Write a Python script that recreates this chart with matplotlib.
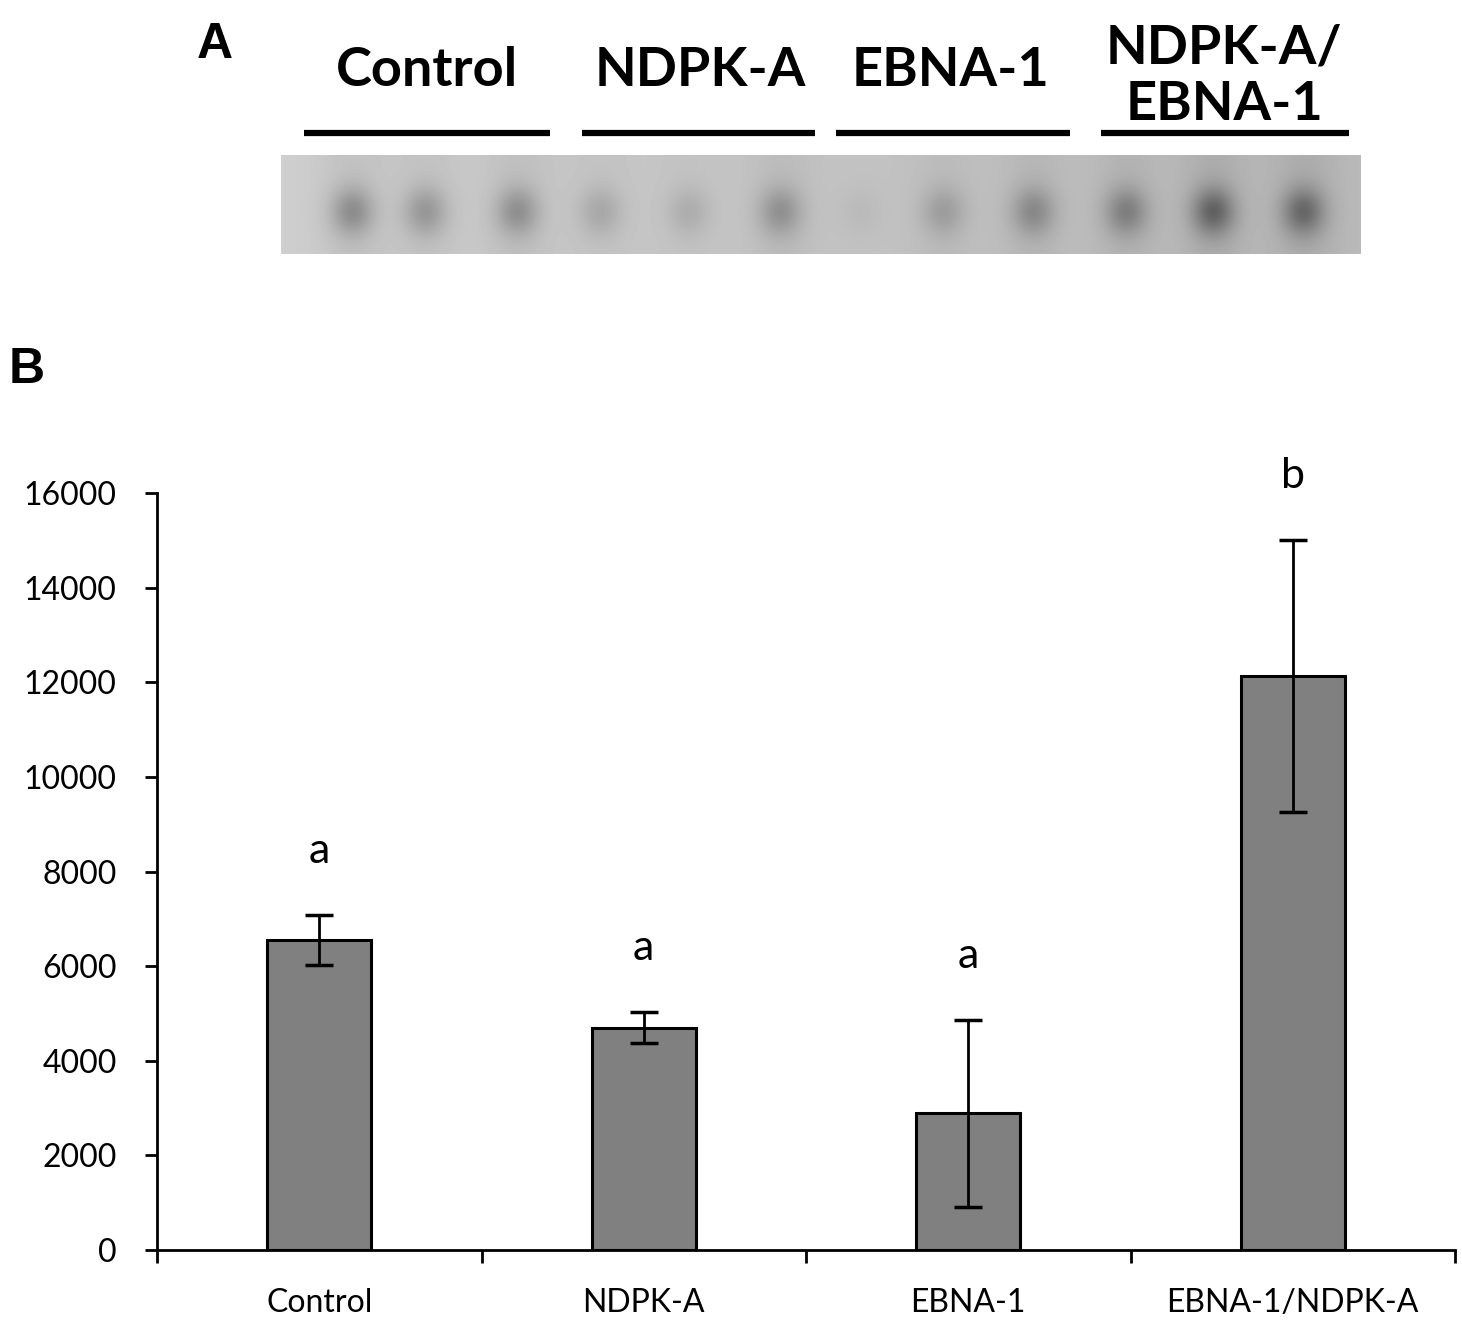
import numpy as np
import matplotlib
matplotlib.use('Agg')
import matplotlib.pyplot as plt

plt.rcParams['font.family'] = ['Lato', 'DejaVu Sans']

# panel B data
groups = ['Control', 'NDPK-A', 'EBNA-1', 'EBNA-1/NDPK-A']
means = [6550, 4700, 2890, 12130]
errors = [530, 330, 1980, 2870]
letters = ['a', 'a', 'a', 'b']

# panel A: blot lanes
blot_groups = ['Control', 'NDPK-A', 'EBNA-1', 'NDPK-A/\nEBNA-1']
lane_pos = [71, 144, 236, 319, 407, 499, 579, 662, 752, 845, 932, 1022]
lane_dark = [0.55, 0.45, 0.50, 0.28, 0.22, 0.45, 0.08, 0.32, 0.48, 0.55, 0.78, 0.72]

W, H = 1462, 1323
fig = plt.figure(figsize=(W / 100, H / 100), dpi=100)


def fx(px):
    return px / W


def fy(py):
    return 1 - py / H


# ---- panel A ----
fig.text(fx(197), fy(58), 'A', fontsize=36, fontweight='bold',
         family='Liberation Sans', va='baseline')

label_x = [427, 700, 951, 1224]
line_spans = [(304, 550), (582, 815), (836, 1070), (1101, 1349)]
for lab, cx, (x0, x1) in zip(blot_groups, label_x, line_spans):
    fig.text(fx(cx), fy(86) if '\n' not in lab else fy(120), lab,
             fontsize=39, fontweight='bold', ha='center', va='baseline',
             linespacing=1.2)
    fig.add_artist(plt.Line2D([fx(x0), fx(x1)], [fy(133), fy(133)],
                              color='black', lw=4.5, solid_capstyle='butt'))

blot_ax = fig.add_axes([fx(281), fy(254), fx(1361) - fx(281), fy(155) - fy(254)])
cols = np.arange(1080)
rows = np.arange(99)
xx, yy = np.meshgrid(cols, rows)
img = 0.81 - 0.08 * (xx / 1080.0)
for p, d in zip(lane_pos, lane_dark):
    img -= 0.38 * d * np.exp(-((xx - p) ** 2) / (2 * 15.0 ** 2)
                             - ((yy - 56) ** 2) / (2 * 17.0 ** 2))
    img -= 0.08 * d * np.exp(-((xx - p) ** 2) / (2 * 26.0 ** 2))
blot_ax.imshow(img, cmap='gray', vmin=0, vmax=1, aspect='auto',
               interpolation='bilinear')
blot_ax.set_axis_off()

# ---- panel B ----
fig.text(fx(9), fy(383), 'B', fontsize=36, fontweight='bold',
         family='Liberation Sans', va='baseline')

ax = fig.add_axes([fx(157), fy(1250), fx(1455) - fx(157), fy(493) - fy(1250)])
x = np.arange(len(groups))
ax.bar(x, means, width=0.32, color='#808080', edgecolor='black', linewidth=2.2,
       zorder=2)
ax.errorbar(x, means, yerr=errors, fmt='none', ecolor='black', elinewidth=2,
            capsize=10, capthick=2.5, zorder=3)
for xi, m, e, l in zip(x, means, errors, letters):
    ax.text(xi, m + e + 1100, l, ha='center', va='baseline', fontsize=31)

ax.set_xlim(-0.5, len(groups) - 0.5)
ax.set_ylim(0, 16000)
ax.set_yticks(np.arange(0, 16001, 2000))
ax.set_xticks(np.arange(-0.5, len(groups), 1.0))
ax.set_xticklabels([])
ax.set_xticks(x, minor=True)
ax.set_xticklabels(groups, minor=True)
ax.tick_params(axis='x', which='minor', length=0, labelsize=23, pad=27)
ax.tick_params(axis='x', which='major', length=9, width=2)
ax.tick_params(axis='y', length=9, width=2, labelsize=23, pad=20)
for s in ['top', 'right']:
    ax.spines[s].set_visible(False)
for s in ['left', 'bottom']:
    ax.spines[s].set_linewidth(2)

fig.savefig('out.png', dpi=100)
